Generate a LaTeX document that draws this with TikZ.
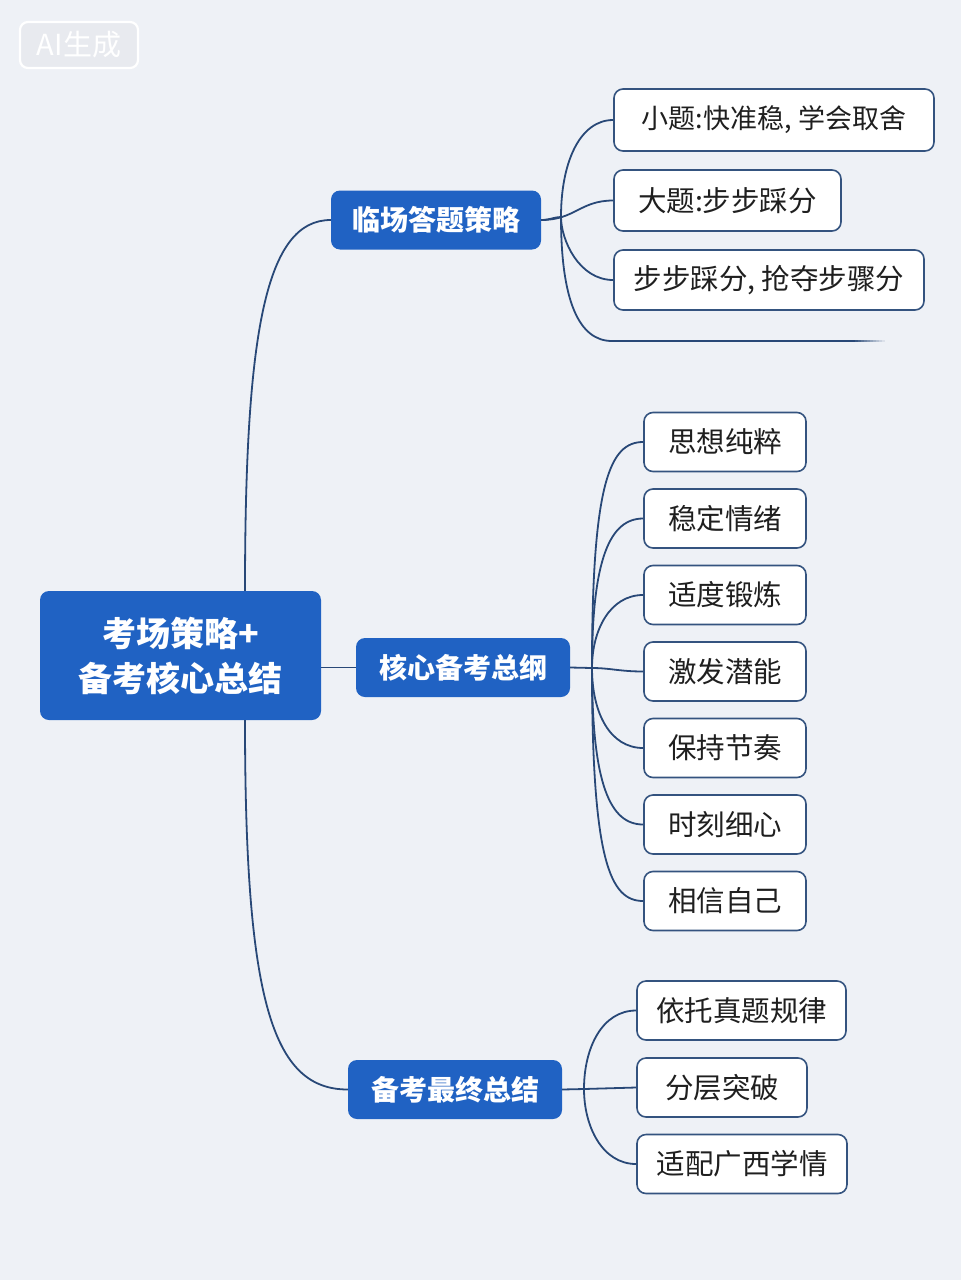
\documentclass[tikz,border=0pt]{standalone}
\usepackage{fontspec}
\setmainfont{Noto Sans CJK SC}
\definecolor{bgc}{HTML}{EEF1F6}
\definecolor{linec}{HTML}{284877}
\definecolor{leafb}{HTML}{34537F}
\definecolor{bluef}{HTML}{2062C3}
\definecolor{aifill}{HTML}{E8EAEF}
\begin{document}
\begin{tikzpicture}[x=1pt,y=-1pt,
  conn/.style={draw=linec, line width=1.8pt},
  leaf/.style={draw=leafb, line width=1.6pt, fill=white, rounded corners=9pt,
    font=\fontsize{28.5}{33}\selectfont, text=black!88, inner sep=0pt, minimum height=59pt},
  mainbox/.style={fill=bluef, rounded corners=9pt, text=white,
    font=\fontsize{28}{32}\selectfont\bfseries, inner sep=0pt, minimum height=59pt},
]
\fill[bgc] (0,0) rectangle (961,1280);
\useasboundingbox (0,0) rectangle (961,1280);

% AI label
\node[draw=white, line width=2.2pt, rounded corners=8pt, fill=aifill, text=white,
  minimum width=118pt, minimum height=46pt, inner sep=0pt,
  font=\fontsize{29}{32}\selectfont] (ai) at (79,45) {AI生成};

% root and main branches
\node[mainbox, minimum width=281pt, minimum height=129pt, align=center,
  font=\fontsize{34}{45}\selectfont\bfseries] (root) at (180.5,655.5) {考场策略+\\备考核心总结};
\node[mainbox, minimum width=210pt] (L1) at (436,220) {临场答题策略};
\node[mainbox, minimum width=214pt] (L2) at (463,667.5) {核心备考总纲};
\node[mainbox, minimum width=214pt] (L3) at (455,1089.5) {备考最终总结};

% leaves of L1
\node[leaf, minimum width=320pt, minimum height=62pt, font=\fontsize{27}{31}\selectfont] (s1) at (774,120) {小题:快准稳, 学会取舍};
\node[leaf, minimum width=227pt, minimum height=61pt] (s2) at (727.5,200.5) {大题:步步踩分};
\node[leaf, minimum width=310pt, minimum height=60pt] (s3) at (769,280) {步步踩分, 抢夺步骤分};
\coordinate (e0) at (612,341);
\coordinate (e1) at (855,341);
\coordinate (j1) at (561,217);

% leaves of L2
\foreach \n/\y/\t in {m1/442/思想纯粹, m2/518.5/稳定情绪, m3/595/适度锻炼, m4/671.5/激发潜能,
  m5/748/保持节奏, m6/824.5/时刻细心, m7/901/相信自己}{
  \node[leaf, minimum width=162pt] (\n) at (725,\y) {\t};
}
\coordinate (j2) at (592,668);

% leaves of L3
\node[leaf, minimum width=209pt] (b1) at (741.5,1010.5) {依托真题规律};
\node[leaf, minimum width=170pt] (b2) at (722,1087.5) {分层突破};
\node[leaf, minimum width=210pt] (b3) at (742,1164) {适配广西学情};
\coordinate (j3) at (584,1089);

% root connectors
\draw[conn] ([xshift=64.5pt]root.north) .. controls (245,330) and (266,220) .. (L1.west);
\draw[conn] (root.east |- L2.west) -- (L2.west);
\draw[conn] ([xshift=64.5pt]root.south) .. controls (245,1000) and (272,1089.5) .. (L3.west);

% L1 connectors
\draw[conn] (L1.east) .. controls (550,220) and (554,217) .. (j1);
\draw[conn] (j1) .. controls (561,162) and (580,120) .. (s1.west);
\draw[conn] (L1.east) .. controls (575,220) and (580,200.5) .. (s2.west);
\draw[conn] (j1) .. controls (561,240) and (579,280) .. (s3.west);
\draw[conn] (j1) .. controls (561,301) and (579,341) .. (e0);
\draw[conn] (e0) -- (e1);
\foreach \k in {1,...,10}{
  \draw[linec, line width=1.8pt, opacity={1-\k/11}] ([xshift={(\k-1)*3pt}]e1) -- ([xshift={\k*3pt}]e1);
}

% L2 connectors
\draw[conn] (L2.east) -- (j2);
\foreach \c/\ty/\cy in {m1/442/482, m2/518.5/558.5, m3/595/630, m5/748/713, m6/824.5/784.5, m7/901/861}{
  \draw[conn] (j2) .. controls (592,\cy) and (610,\ty) .. (\c.west);
}
\draw[conn] (j2) .. controls (610,668) and (620,671.5) .. (m4.west);

% L3 connectors
\draw[conn] (L3.east) -- (j3);
\draw[conn] (j3) .. controls (584,1048) and (602,1010.5) .. (b1.west);
\draw[conn] (j3) -- (b2.west);
\draw[conn] (j3) .. controls (584,1126) and (602,1164) .. (b3.west);
\end{tikzpicture}
\end{document}
